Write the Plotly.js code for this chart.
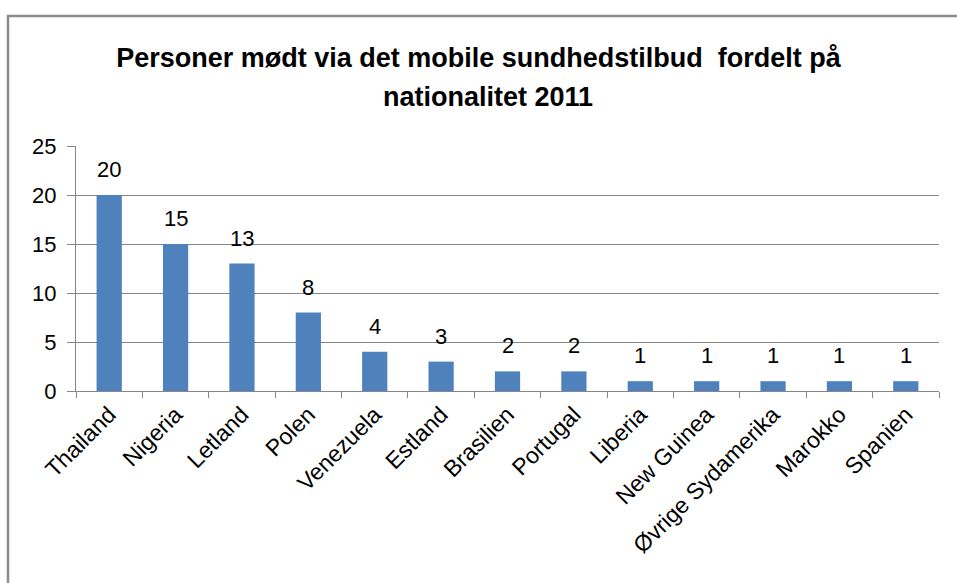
<!DOCTYPE html>
<html><head><meta charset="utf-8">
<script src="https://cdn.plot.ly/plotly-3.0.1.min.js"></script>
<style>html,body{margin:0;padding:0;background:#fff}#chart{width:957px;height:583px}</style>
</head><body><div id="chart"></div>
<script>
const categories = ["Thailand","Nigeria","Letland","Polen","Venezuela","Estland","Brasilien","Portugal","Liberia","New Guinea","Øvrige Sydamerika","Marokko","Spanien"];
const values = [20,15,13,8,4,3,2,2,1,1,1,1,1];
const yTicks = [0,5,10,15,20,25];
const titleLines = ["Personer mødt via det mobile sundhedstilbud  fordelt på","nationalitet 2011"];

const L=76, R=939, T=146, B=391, W=957, H=583;
const pw=R-L, ph=B-T;
const px = x => (x-L)/pw, py = y => (B-y)/ph;
const FONT='Liberation Sans, Arial, sans-serif';

const trace = {
  type:'bar', x:categories, y:values,
  marker:{color:'#4F81BD'}, hoverinfo:'none'
};
const annotations = categories.map((c,i)=>({
  x:c, y:values[i], xref:'x', yref:'y', text:String(values[i]),
  showarrow:false, yanchor:'bottom', yshift:11,
  font:{family:FONT, size:22, color:'#000'}
}));
annotations.push({xref:'paper', yref:'paper', x:px(488), y:py(97), xanchor:'center', yanchor:'middle',
  showarrow:false, text:'<b>'+titleLines[1]+'</b>', font:{family:FONT, size:27, color:'#000'}});
const layout = {
  width:W, height:H,
  margin:{l:L, r:W-R, t:T, b:H-B, pad:0},
  paper_bgcolor:'#fff', plot_bgcolor:'#fff',
  bargap:0.62,
  showlegend:false,
  title:{text:'<b>'+titleLines[0]+'</b>',
    font:{family:FONT, size:27, color:'#000'},
    x:0.5, xanchor:'center', y:(H-58)/H, yanchor:'middle'},
  xaxis:{type:'category', showline:true, linecolor:'#868686', linewidth:1,
    ticks:'outside', tickson:'boundaries', ticklen:6, tickcolor:'#868686',
    tickangle:-45, showgrid:false,
    tickfont:{family:FONT, size:23, color:'#000'}},
  yaxis:{range:[0,25], tickvals:yTicks, showline:true, linecolor:'#868686', linewidth:1,
    ticks:'outside', ticklen:8, tickcolor:'#868686',
    showgrid:true, gridcolor:'#868686', gridwidth:1, zeroline:false,
    tickfont:{family:FONT, size:22, color:'#000'}, ticklabelstandoff:6},
  annotations: annotations,
  shapes:[{type:'path', xref:'paper', yref:'paper',
    path:`M ${px(8)} ${py(590)} L ${px(8)} ${py(16)} L ${px(960)} ${py(16)}`,
    line:{color:'#8c8c8c', width:2.5}}]
};
Plotly.newPlot('chart',[trace],layout,{displayModeBar:false,staticPlot:true});
</script></body></html>
